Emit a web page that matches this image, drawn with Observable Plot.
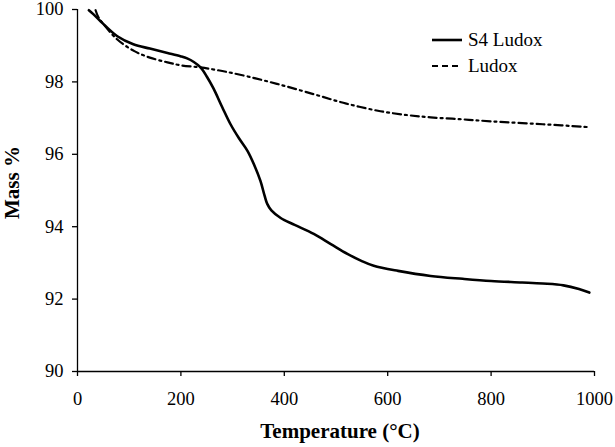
<!DOCTYPE html>
<html>
<head>
<meta charset="utf-8">
<script src="https://cdn.jsdelivr.net/npm/d3@7"></script>
<script src="https://cdn.jsdelivr.net/npm/@observablehq/plot@0.6"></script>
<style>
  html, body { margin: 0; padding: 0; background: #fff; }
  #wrap { position: relative; width: 615px; height: 447px; }
  #legend { position: absolute; left: 432px; top: 27px; font-family: "Liberation Serif", "Times New Roman", serif; font-size: 19px; color: #000; }
  #legend .row { display: flex; align-items: center; height: 26px; }
  #legend svg { margin-right: 4px; }
</style>
</head>
<body>
<div id="wrap">
  <div id="chart"></div>
  <div id="legend"></div>
</div>
<script>
// Series names
const seriesNames = ["S4 Ludox", "Ludox"];

// S4 Ludox: temperature (°C) and mass (%)
const s4Temp = [22, 30, 45, 77, 108, 140, 174, 199, 212, 225, 238, 250, 263, 280, 296, 312, 329, 342, 354, 362, 367, 375, 393, 420, 457, 490, 522, 550, 573, 620, 683, 745, 800, 860, 900, 940, 970, 990];
const s4Mass = [99.98, 99.88, 99.67, 99.26, 99.04, 98.92, 98.8, 98.71, 98.65, 98.55, 98.4, 98.15, 97.82, 97.3, 96.83, 96.45, 96.09, 95.7, 95.26, 94.85, 94.63, 94.45, 94.24, 94.05, 93.8, 93.52, 93.25, 93.05, 92.92, 92.78, 92.64, 92.56, 92.5, 92.46, 92.43, 92.38, 92.28, 92.18];

// Ludox: temperature (°C) and mass (%)
const ludoxTemp = [35, 40, 50, 77, 110, 140, 174, 199, 238, 280, 329, 390, 457, 520, 586, 640, 683, 740, 800, 900, 990];
const ludoxMass = [99.98, 99.8, 99.6, 99.17, 98.85, 98.67, 98.54, 98.46, 98.4, 98.3, 98.15, 97.93, 97.66, 97.4, 97.19, 97.08, 97.02, 96.97, 96.91, 96.83, 96.75];

// Axis ticks
const xTicks = [0, 200, 400, 600, 800, 1000];
const yTicks = [90, 92, 94, 96, 98, 100];

const xLabel = "Temperature (°C)";
const yLabel = "Mass %";

const s4 = s4Temp.map((t, i) => ({ t, m: s4Mass[i] }));
const ludox = ludoxTemp.map((t, i) => ({ t, m: ludoxMass[i] }));

const dash = "8,4,2,4";

const chart = Plot.plot({
  width: 615,
  height: 447,
  marginLeft: 77,
  marginRight: 21,
  marginTop: 9,
  marginBottom: 76,
  style: { fontFamily: "'Liberation Serif', 'Times New Roman', serif", fontSize: "18.5px", color: "#000", background: "#fff", overflow: "visible" },
  x: { domain: [0, 1000] },
  y: { domain: [90, 100] },
  marks: [
    Plot.axisX({ ticks: xTicks, tickFormat: d => String(d), tickSize: 5, tickPadding: 15, label: null, stroke: "#000", strokeWidth: 1.3 }),
    Plot.axisY({ ticks: yTicks, tickFormat: d => String(d), tickSize: 5, tickPadding: 9, label: null, stroke: "#000", strokeWidth: 1.3 }),
    Plot.ruleY([90], { stroke: "#000", strokeWidth: 1.3 }),
    Plot.ruleX([0], { stroke: "#000", strokeWidth: 1.3 }),
    Plot.line(ludox, { x: "t", y: "m", stroke: "#000", strokeWidth: 2.2, strokeDasharray: dash, curve: "catmull-rom" }),
    Plot.line(s4, { x: "t", y: "m", stroke: "#000", strokeWidth: 2.6, curve: "catmull-rom" }),
    Plot.text([xLabel], { frameAnchor: "bottom", text: d => d, textAnchor: "middle", dy: 66, dx: 4, fontSize: 21, fontWeight: "bold" }),
    Plot.text([yLabel], { frameAnchor: "left", text: d => d, textAnchor: "middle", lineAnchor: "middle", rotate: -90, dx: -65, dy: -8, fontSize: 21, fontWeight: "bold" })
  ]
});
document.getElementById("chart").appendChild(chart);

// Legend
const legend = document.getElementById("legend");
const styles = [{ dash: null, w: 2.6 }, { dash: "6,4", w: 2 }];
seriesNames.forEach((name, i) => {
  const row = document.createElement("div");
  row.className = "row";
  const st = styles[i];
  row.innerHTML = `<svg width="32" height="10"><line x1="0" y1="5" x2="30" y2="5" stroke="#000" stroke-width="${st.w}" ${st.dash ? `stroke-dasharray="${st.dash}"` : ""}/></svg><span>${name}</span>`;
  legend.appendChild(row);
});
</script>
</body>
</html>
